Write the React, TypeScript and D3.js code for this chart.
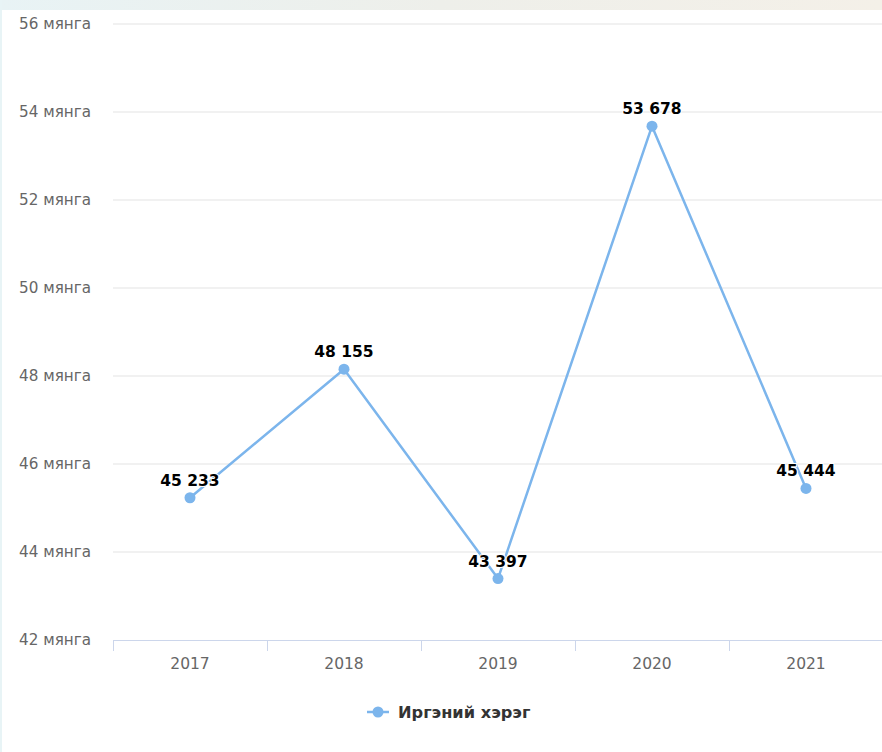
import React from 'react';
import * as d3 from 'd3';

const years = ['2017', '2018', '2019', '2020', '2021'];
const cases = [45233, 48155, 43397, 53678, 45444];
const yTicks = [42, 44, 46, 48, 50, 52, 54, 56];
const seriesName = 'Иргэний хэрэг';

const W = 882;
const H = 752;
const FONT = '"DejaVu Sans", Verdana, sans-serif';
const LINE = '#7cb5ec';

const fmt = (v: number) => d3.format(',')(v).replace(/,/g, ' ');

export default function App() {
  const x = d3.scaleBand<string>().domain(years).range([113, 883]);
  const y = d3.scaleLinear().domain([42, 56]).range([640, 24]);
  const cx = (yr: string) => (x(yr) ?? 0) + x.bandwidth() / 2;

  const line = d3.line<number>()
    .x((_, i) => cx(years[i]))
    .y(v => y(v / 1000));

  const boundaries = years.map(yr => x(yr) ?? 0).concat([x.range()[1]]);

  return (
    <div style={{ position: 'absolute', left: 0, top: 0, width: W, height: H }}>
      <svg width={W} height={H} style={{ display: 'block', fontFamily: FONT }}>
        <defs>
          <linearGradient id="topband" x1="0" x2="1" y1="0" y2="0">
            <stop offset="0" stopColor="#e8f3f5" />
            <stop offset="0.5" stopColor="#eeefea" />
            <stop offset="1" stopColor="#f4f0e8" />
          </linearGradient>
        </defs>
        <rect width={W} height={H} fill="#ffffff" />
        <rect width={W} height={10} fill="url(#topband)" />
        <rect width={2} height={H} fill="#e8f4f6" />

        {/* grid + y labels */}
        {yTicks.map(t => (
          <g key={t}>
            {t !== 42 && (
              <line x1={113} x2={W} y1={y(t)} y2={y(t)} stroke="#e3e3e3" strokeWidth={1} />
            )}
            <text x={91} y={y(t)} dy="0.35em" textAnchor="end" fill="#666666" fontSize={15.2}>
              {`${t} мянга`}
            </text>
          </g>
        ))}

        {/* x axis */}
        <line x1={113} x2={W} y1={640.5} y2={640.5} stroke="#ccd6eb" strokeWidth={1} />
        {boundaries.map((b, i) => (
          <line key={i} x1={b + 0.5} x2={b + 0.5} y1={640} y2={651} stroke="#ccd6eb" strokeWidth={1} />
        ))}
        {years.map(yr => (
          <text key={yr} x={cx(yr)} y={669} textAnchor="middle" fill="#666666" fontSize={15.5}>
            {yr}
          </text>
        ))}

        {/* series */}
        <path d={line(cases) ?? ''} fill="none" stroke={LINE} strokeWidth={2.5} strokeLinejoin="round" />
        {cases.map((v, i) => (
          <circle key={i} cx={cx(years[i])} cy={y(v / 1000)} r={5.5} fill={LINE} />
        ))}
        {cases.map((v, i) => (
          <text
            key={'l' + i}
            x={cx(years[i])}
            y={y(v / 1000) - 12}
            textAnchor="middle"
            fontSize={15.5}
            fontWeight="bold"
            fill="#000000"
            stroke="#ffffff"
            strokeWidth={2}
            style={{ paintOrder: 'stroke' }}
          >
            {fmt(v)}
          </text>
        ))}

        {/* legend */}
        <line x1={367} x2={389} y1={712} y2={712} stroke={LINE} strokeWidth={2.5} />
        <circle cx={378} cy={712} r={5.5} fill={LINE} />
        <text x={398} y={712} dy="0.35em" fontSize={16.2} fontWeight="bold" fill="#333333">
          {seriesName}
        </text>
      </svg>
    </div>
  );
}
